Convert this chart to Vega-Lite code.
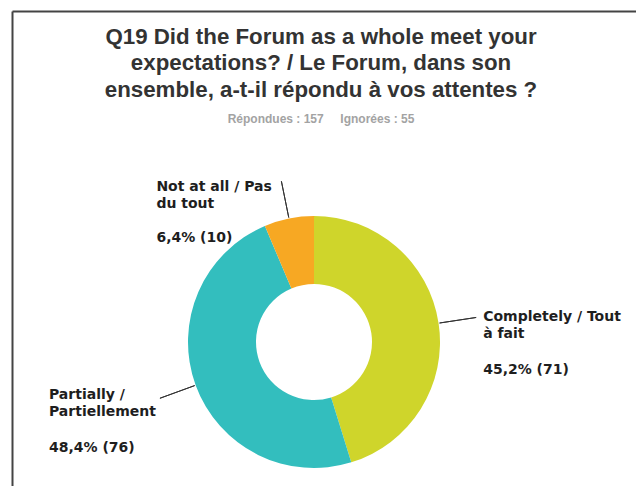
{
  "$schema": "https://vega.github.io/schema/vega-lite/v6.json",
  "width": 604,
  "height": 662,
  "autosize": {"type": "none"},
  "padding": {"left": 12, "top": 11, "right": 40, "bottom": 0},
  "background": "white",
  "view": {"stroke": "transparent", "strokeWidth": 0},
  "config": {"view": {"stroke": "transparent", "strokeWidth": 0}},
  "title": {
    "text": ["Q19 Did the Forum as a whole meet your", "expectations? / Le Forum, dans son", "ensemble, a-t-il répondu à vos attentes ?"],
    "subtitle": "Répondues : 157\u00a0\u00a0\u00a0\u00a0\u00a0Ignorées : 55",
    "font": "Liberation Sans",
    "fontSize": 22.3,
    "fontWeight": "bold",
    "color": "#333333",
    "lineHeight": 26.5,
    "subtitleFont": "Liberation Sans",
    "subtitleFontSize": 12,
    "subtitleFontWeight": "bold",
    "subtitleColor": "#a3a3a3",
    "subtitlePadding": 13,
    "anchor": "middle",
    "frame": "group",
    "offset": -114,
    "dx": 7
  },
  "data": {
    "values": [
      {"answer": "Completely / Tout à fait", "name": ["Completely / Tout", "à fait"], "pct": "45,2% (71)", "count": 71},
      {"answer": "Partially / Partiellement", "name": ["Partially /", "Partiellement"], "pct": "48,4% (76)", "count": 76},
      {"answer": "Not at all / Pas du tout", "name": ["Not at all / Pas", "du tout"], "pct": "6,4% (10)", "count": 10}
    ]
  },
  "encoding": {
    "order": {"field": "count", "type": "quantitative", "sort": "ascending"}
  },
  "layer": [
    {
      "mark": {"type": "point", "opacity": 0},
      "encoding": {
        "x": {
          "field": "count",
          "type": "quantitative",
          "scale": {"range": [0, 630]},
          "axis": {"orient": "top", "domainColor": "#444444", "domainWidth": 2, "ticks": false, "labels": false, "grid": false, "title": null}
        },
        "y": {
          "field": "count",
          "type": "quantitative",
          "scale": {"range": [0, 662]},
          "axis": {"orient": "left", "domainColor": "#444444", "domainWidth": 2, "ticks": false, "labels": false, "grid": false, "title": null}
        }
      }
    },
    {
      "mark": {"type": "arc", "radius": 126, "innerRadius": 58},
      "encoding": {
        "theta": {"field": "count", "type": "quantitative", "stack": true, "scale": {"range": [-0.4002, 5.8830]}},
        "color": {
          "field": "answer",
          "type": "nominal",
          "scale": {
            "domain": ["Completely / Tout à fait", "Partially / Partiellement", "Not at all / Pas du tout"],
            "range": ["#cfd52b", "#33bebe", "#f7a823"]
          },
          "legend": null
        }
      }
    },
    {
      "mark": {"type": "arc", "radius": 164, "innerRadius": 127, "padAngle": 3.1, "stroke": "#333333", "strokeWidth": 1, "fillOpacity": 0},
      "encoding": {
        "theta": {"field": "count", "type": "quantitative", "stack": true},
        "color": {"value": "#ffffff"}
      }
    },
    {
      "mark": {
        "type": "text",
        "radius": 164,
        "align": "left",
        "baseline": "top",
        "font": "DejaVu Sans",
        "fontSize": 14,
        "fontWeight": "bold",
        "lineHeight": 17,
        "dx": {"expr": "datum.answer == 'Completely / Tout à fait' ? 7 : datum.answer == 'Partially / Partiellement' ? -111 : -125"},
        "dy": {"expr": "datum.answer == 'Completely / Tout à fait' ? -7 : datum.answer == 'Partially / Partiellement' ? -10 : -1"}
      },
      "encoding": {
        "theta": {"field": "count", "type": "quantitative", "stack": true},
        "text": {"field": "name"},
        "color": {"value": "#1e1e1e"}
      }
    },
    {
      "mark": {
        "type": "text",
        "radius": 164,
        "align": "left",
        "baseline": "top",
        "font": "DejaVu Sans",
        "fontSize": 14,
        "fontWeight": "bold",
        "dx": {"expr": "datum.answer == 'Completely / Tout à fait' ? 7 : datum.answer == 'Partially / Partiellement' ? -111 : -125"},
        "dy": {"expr": "datum.answer == 'Completely / Tout à fait' ? 46 : datum.answer == 'Partially / Partiellement' ? 43 : 50"}
      },
      "encoding": {
        "theta": {"field": "count", "type": "quantitative", "stack": true},
        "text": {"field": "pct"},
        "color": {"value": "#1e1e1e"}
      }
    }
  ]
}
